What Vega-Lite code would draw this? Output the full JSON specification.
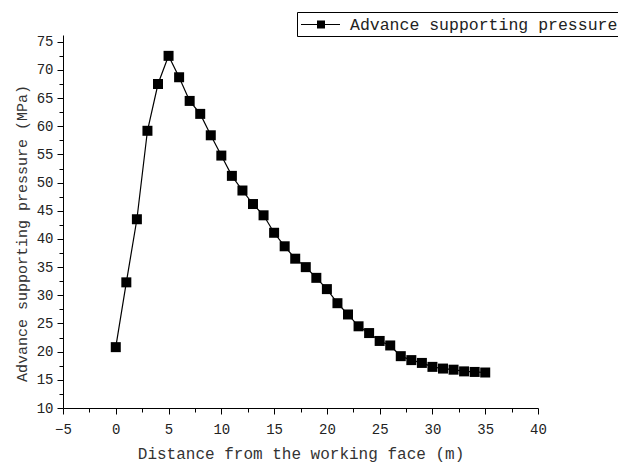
{
  "$schema": "https://vega.github.io/schema/vega-lite/v6.json",
  "width": 475,
  "height": 373,
  "autosize": "none",
  "padding": {"left": 63, "top": 35, "right": 80, "bottom": 57},
  "background": "white",
  "config": {"view": {"stroke": null}, "font": "Liberation Mono"},
  "data": {
    "values": [
      {"d": 0, "p": 20.8, "series": "Advance supporting pressure"},
      {"d": 1, "p": 32.3, "series": "Advance supporting pressure"},
      {"d": 2, "p": 43.5, "series": "Advance supporting pressure"},
      {"d": 3, "p": 59.2, "series": "Advance supporting pressure"},
      {"d": 4, "p": 67.5, "series": "Advance supporting pressure"},
      {"d": 5, "p": 72.5, "series": "Advance supporting pressure"},
      {"d": 6, "p": 68.7, "series": "Advance supporting pressure"},
      {"d": 7, "p": 64.5, "series": "Advance supporting pressure"},
      {"d": 8, "p": 62.2, "series": "Advance supporting pressure"},
      {"d": 9, "p": 58.4, "series": "Advance supporting pressure"},
      {"d": 10, "p": 54.8, "series": "Advance supporting pressure"},
      {"d": 11, "p": 51.2, "series": "Advance supporting pressure"},
      {"d": 12, "p": 48.6, "series": "Advance supporting pressure"},
      {"d": 13, "p": 46.2, "series": "Advance supporting pressure"},
      {"d": 14, "p": 44.2, "series": "Advance supporting pressure"},
      {"d": 15, "p": 41.1, "series": "Advance supporting pressure"},
      {"d": 16, "p": 38.7, "series": "Advance supporting pressure"},
      {"d": 17, "p": 36.5, "series": "Advance supporting pressure"},
      {"d": 18, "p": 35.0, "series": "Advance supporting pressure"},
      {"d": 19, "p": 33.1, "series": "Advance supporting pressure"},
      {"d": 20, "p": 31.1, "series": "Advance supporting pressure"},
      {"d": 21, "p": 28.6, "series": "Advance supporting pressure"},
      {"d": 22, "p": 26.6, "series": "Advance supporting pressure"},
      {"d": 23, "p": 24.5, "series": "Advance supporting pressure"},
      {"d": 24, "p": 23.3, "series": "Advance supporting pressure"},
      {"d": 25, "p": 21.9, "series": "Advance supporting pressure"},
      {"d": 26, "p": 21.1, "series": "Advance supporting pressure"},
      {"d": 27, "p": 19.2, "series": "Advance supporting pressure"},
      {"d": 28, "p": 18.5, "series": "Advance supporting pressure"},
      {"d": 29, "p": 18.0, "series": "Advance supporting pressure"},
      {"d": 30, "p": 17.3, "series": "Advance supporting pressure"},
      {"d": 31, "p": 17.0, "series": "Advance supporting pressure"},
      {"d": 32, "p": 16.8, "series": "Advance supporting pressure"},
      {"d": 33, "p": 16.5, "series": "Advance supporting pressure"},
      {"d": 34, "p": 16.4, "series": "Advance supporting pressure"},
      {"d": 35, "p": 16.3, "series": "Advance supporting pressure"}
    ]
  },
  "encoding": {
    "x": {
      "field": "d",
      "type": "quantitative",
      "scale": {"domain": [-5, 40], "nice": false, "zero": false},
      "axis": {
        "title": "Distance from the working face (m)",
        "values": [-5, -2.5, 0, 2.5, 5, 7.5, 10, 12.5, 15, 17.5, 20, 22.5, 25, 27.5, 30, 32.5, 35, 37.5, 40],
        "labelExpr": "datum.value % 5 === 0 ? datum.label : ''",
        "tickSize": {"condition": {"test": "datum.value % 5 === 0", "value": 6}, "value": 4},
        "grid": false,
        "domainColor": "black",
        "tickColor": "black",
        "labelFont": "Liberation Mono",
        "labelFontSize": 14,
        "labelColor": "#222",
        "labelPadding": 8,
        "labelFlush": false,
        "labelOverlap": false,
        "titleFont": "Liberation Mono",
        "titleFontSize": 16,
        "titleFontWeight": "normal",
        "titleColor": "#333",
        "titlePadding": 9
      }
    },
    "y": {
      "field": "p",
      "type": "quantitative",
      "scale": {"domain": [10, 76.2], "nice": false, "zero": false},
      "axis": {
        "title": "Advance supporting pressure (MPa)",
        "values": [10, 12.5, 15, 17.5, 20, 22.5, 25, 27.5, 30, 32.5, 35, 37.5, 40, 42.5, 45, 47.5, 50, 52.5, 55, 57.5, 60, 62.5, 65, 67.5, 70, 72.5, 75],
        "labelExpr": "datum.value % 5 === 0 ? datum.label : ''",
        "tickSize": {"condition": {"test": "datum.value % 5 === 0", "value": 6}, "value": 4},
        "grid": false,
        "domainColor": "black",
        "tickColor": "black",
        "labelFont": "Liberation Mono",
        "labelFontSize": 14,
        "labelColor": "#222",
        "labelPadding": 4,
        "labelFlush": false,
        "labelOverlap": false,
        "titleFont": "Liberation Mono",
        "titleFontSize": 15,
        "titleFontWeight": "normal",
        "titleColor": "#333",
        "titleBaseline": "middle",
        "titleX": -42,
        "titleY": 198
      }
    },
    "color": {
      "field": "series",
      "type": "nominal",
      "scale": {"range": ["black"]},
      "legend": {
        "title": null,
        "orient": "none",
        "legendX": 234,
        "legendY": -23,
        "strokeColor": "black",
        "fillColor": "white",
        "padding": 2.5,
        "symbolType": "M-0.85,-0.06H3.05V0.06H-0.85Z M0.75,-0.4H1.55V0.4H0.75Z",
        "symbolSize": 400,
        "symbolStrokeWidth": 0,
        "labelFont": "Liberation Mono",
        "labelFontSize": 16.5,
        "labelColor": "#222",
        "labelOffset": 30.5,
        "labelLimit": 400,
        "encode": {
          "symbols": {"update": {"fill": {"value": "black"}, "stroke": {"value": "transparent"}, "opacity": {"value": 1}}}
        }
      }
    }
  },
  "layer": [
    {"mark": {"type": "line", "strokeWidth": 1.2}},
    {"mark": {"type": "point", "shape": "square", "filled": true, "size": 100, "opacity": 1}}
  ]
}
